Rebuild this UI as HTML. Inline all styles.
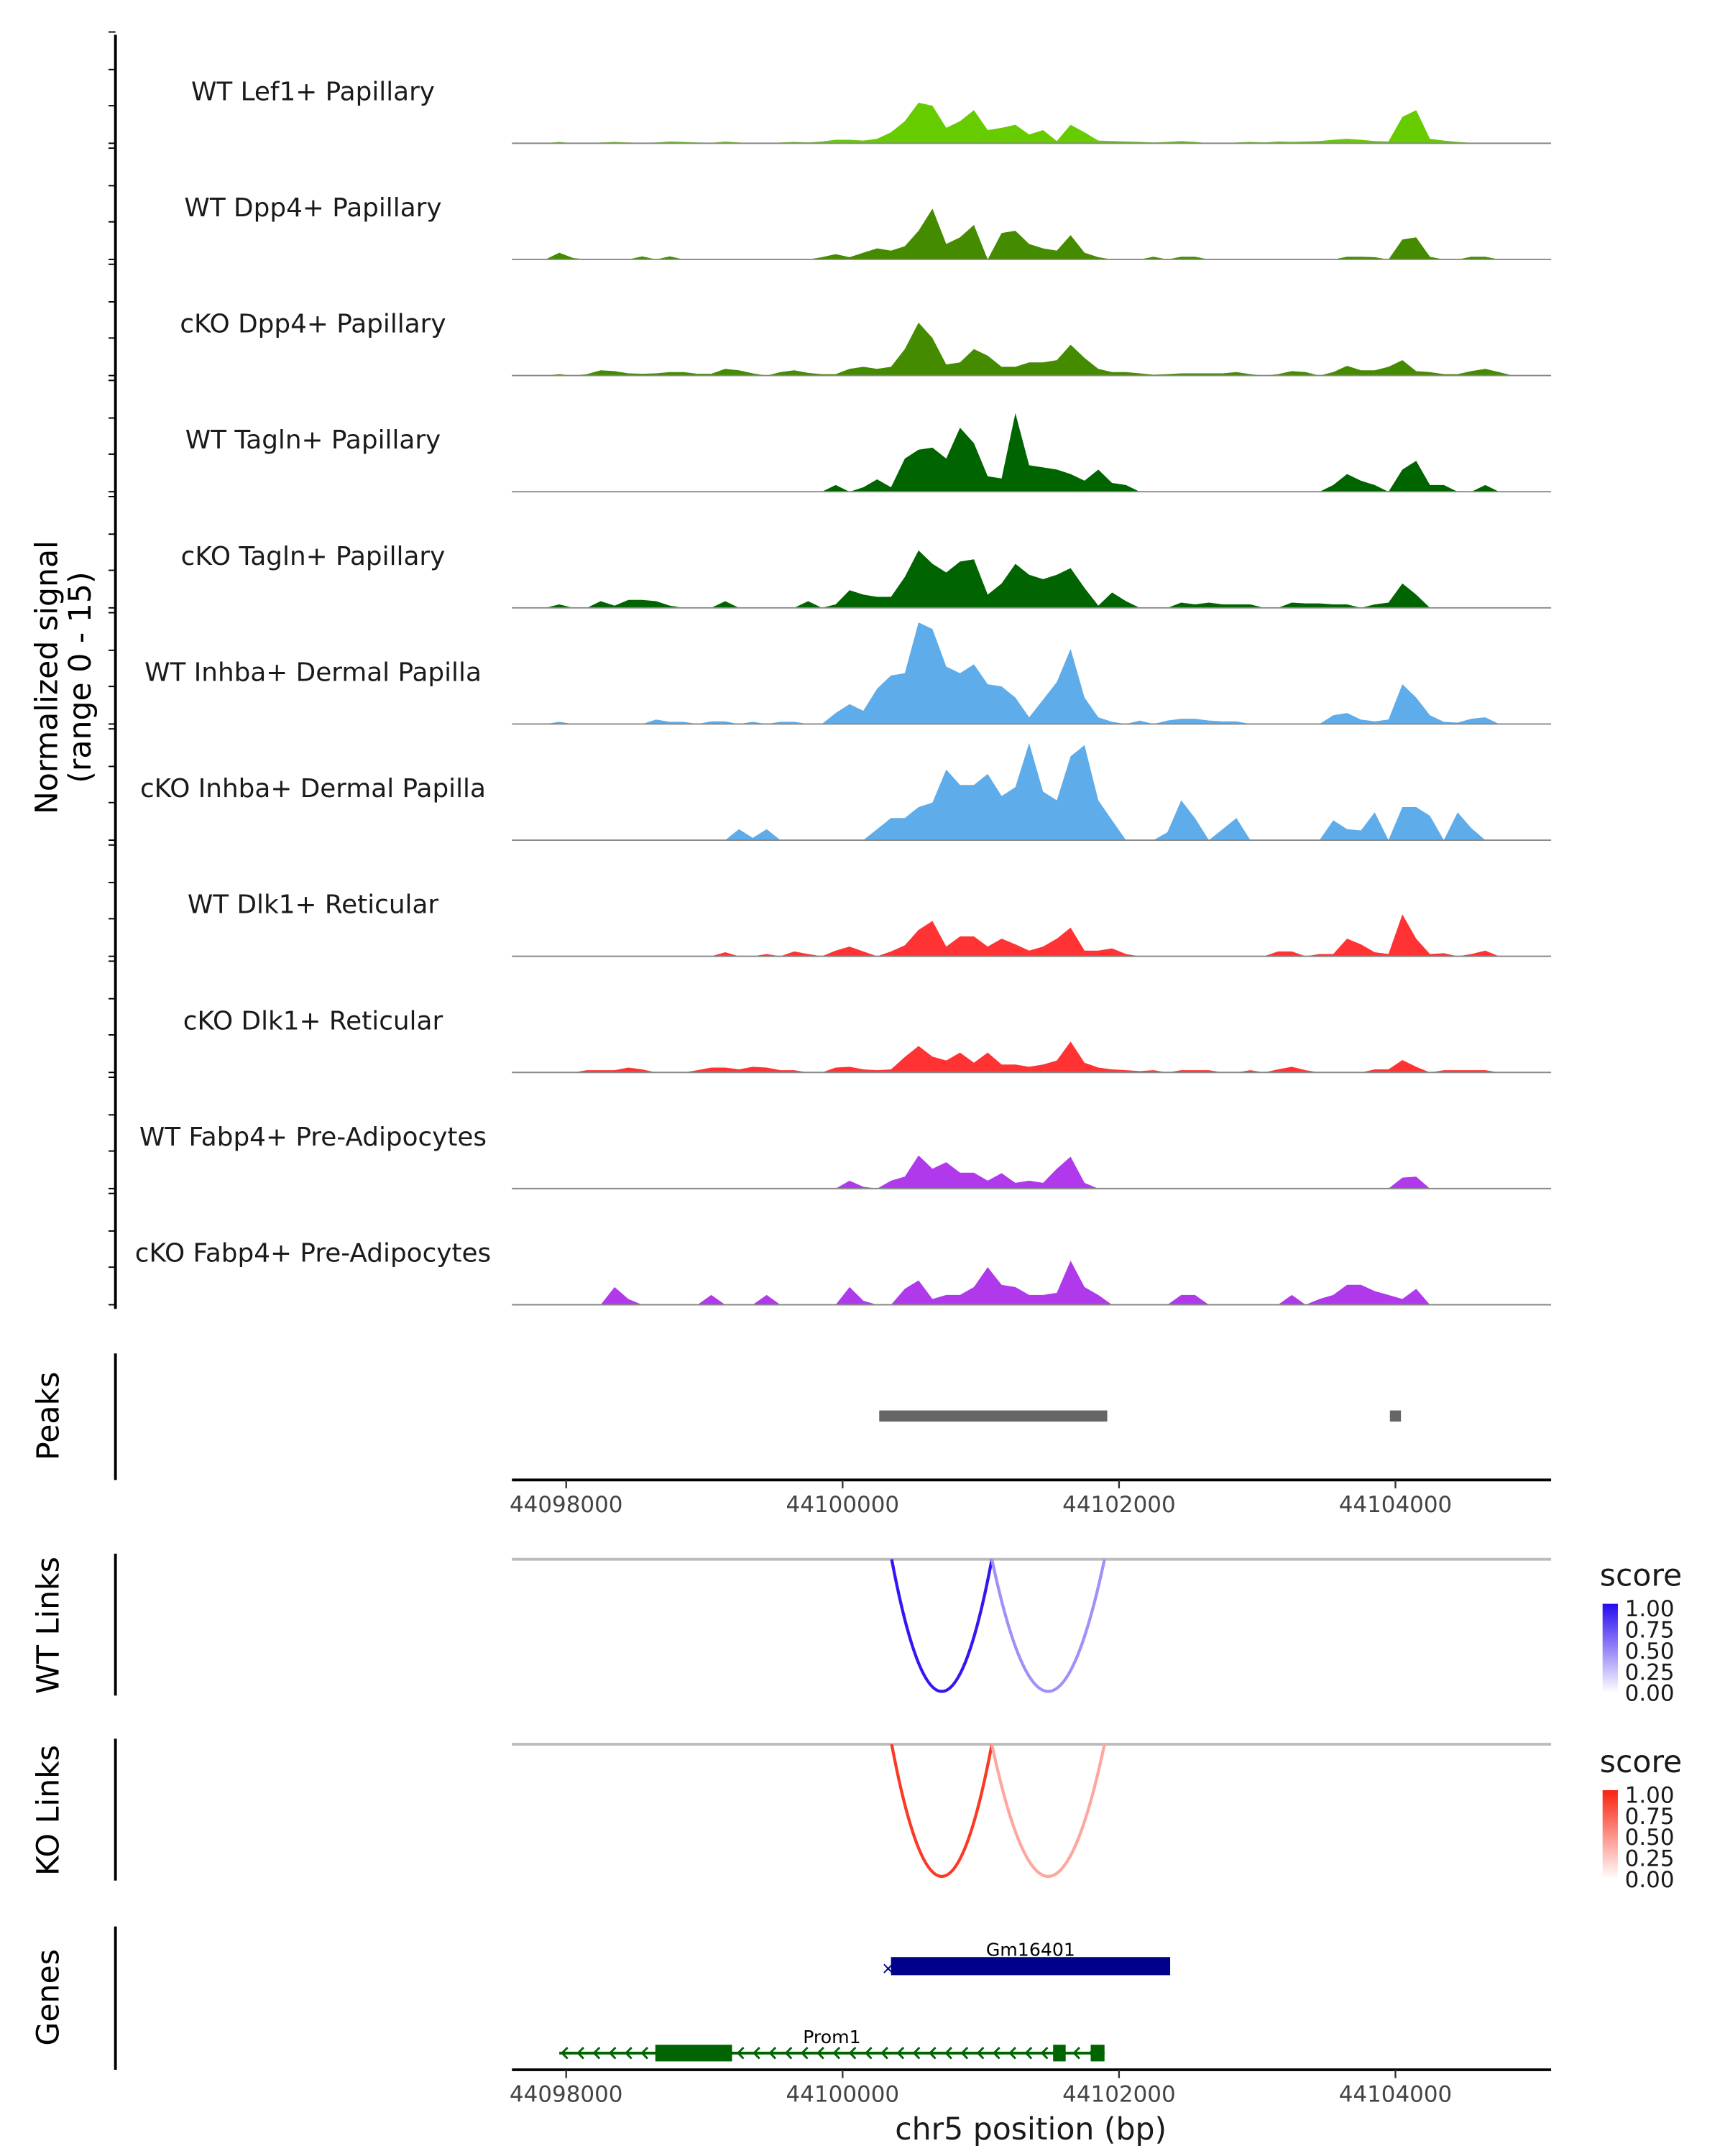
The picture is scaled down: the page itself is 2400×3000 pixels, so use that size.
<!DOCTYPE html>
<html><head><meta charset="utf-8"><style>
html,body{margin:0;padding:0;background:#fff}
svg{display:block;font-family:"DejaVu Sans","Liberation Sans",sans-serif}
</style></head><body>
<svg id="chart" xmlns="http://www.w3.org/2000/svg" width="2400" height="3000" viewBox="0 0 1240 1550">
<rect width="1240" height="1550" fill="#fff"/>
</svg>
<script>
const trackNames=["WT Lef1+ Papillary","WT Dpp4+ Papillary","cKO Dpp4+ Papillary","WT Tagln+ Papillary","cKO Tagln+ Papillary","WT Inhba+ Dermal Papilla","cKO Inhba+ Dermal Papilla","WT Dlk1+ Reticular","cKO Dlk1+ Reticular","WT Fabp4+ Pre-Adipocytes","cKO Fabp4+ Pre-Adipocytes"];
const trackColors=["#66cc00","#458b00","#458b00","#006400","#006400","#5eacea","#5eacea","#ff3333","#ff3333","#b03aeb","#b03aeb"];
const binStart=44097600;
const binSize=100;
const sLef1=[0,0,0,3,0,0,2,3,2,1,2,4,3,2,1,4,2,0,0,2,3,2,4,8,8,6,10,25,50,92,85,35,50,75,30,35,42,20,30,5,42,25,6,5,4,3,2,3,5,3,0,0,2,3,2,4,3,4,5,8,10,8,5,4,60,75,10,6,3,1,0,0,0,0,0,0];
const sDpp4WT=[0,0,0,15,3,0,0,0,0,7,0,7,0,0,0,0,0,0,0,0,0,0,5,12,5,15,25,20,30,65,115,35,50,78,0,60,65,35,25,20,55,15,5,0,0,0,6,0,6,6,0,0,0,0,0,0,0,0,0,0,6,6,5,0,45,50,6,0,0,6,6,0,0,0,0,0];
const sDpp4KO=[0,0,0,3,0,3,12,10,5,4,5,8,8,4,4,15,12,5,0,8,12,6,3,3,15,20,15,20,60,120,85,25,30,60,45,20,20,30,30,35,70,40,15,8,8,5,2,3,5,5,5,5,8,3,0,3,10,8,0,8,22,12,12,20,35,10,8,3,3,10,15,8,0,0,0,0];
const sTaglnWT=[0,0,0,0,0,0,0,0,0,0,0,0,0,0,0,0,0,0,0,0,0,0,0,15,0,10,28,10,75,95,100,75,145,110,35,30,178,60,55,50,40,25,50,20,15,0,0,0,0,0,0,0,0,0,0,0,0,0,0,15,40,25,15,0,50,70,15,15,0,0,15,0,0,0,0,0];
const sTaglnKO=[0,0,0,8,0,0,15,5,18,18,15,5,0,0,0,15,0,0,0,0,0,15,0,8,40,30,25,25,70,130,100,80,105,110,30,55,100,75,65,75,90,45,5,35,15,0,0,0,12,8,12,8,8,8,0,0,12,10,10,8,8,0,8,12,55,30,0,0,0,0,0,0,0,0,0,0];
const sInhbaWT=[0,0,0,5,0,0,0,0,0,0,10,5,5,0,6,6,0,5,0,5,5,0,0,25,45,30,80,110,115,230,215,130,115,135,90,85,60,15,55,95,170,60,15,5,0,8,0,8,12,12,8,6,6,0,0,0,0,0,0,20,25,10,6,10,90,60,20,5,3,12,15,0,0,0,0,0];
const sInhbaKO=[0,0,0,0,0,0,0,0,0,0,0,0,0,0,0,0,25,5,25,0,0,0,0,0,0,0,25,50,50,75,85,160,125,125,150,100,120,220,110,90,190,215,90,45,0,0,0,18,90,50,0,25,50,0,0,0,0,0,0,45,25,22,63,0,75,75,55,0,63,27,0,0,0,0,0,0];
const sDlk1WT=[0,0,0,0,0,0,0,0,0,0,0,0,0,0,0,9,0,0,5,0,11,5,0,13,22,11,0,11,25,60,80,22,45,45,22,40,27,13,22,40,65,13,13,18,5,0,0,0,0,0,0,0,0,0,0,11,11,0,5,5,40,27,9,5,95,40,5,7,0,5,13,0,0,0,0,0];
const sDlk1KO=[0,0,0,0,0,5,5,5,11,7,0,0,0,5,11,11,7,13,11,5,5,0,0,11,13,7,5,7,35,60,36,27,45,22,45,18,18,13,18,27,70,22,11,7,5,3,5,0,5,5,5,0,0,5,0,7,13,5,0,0,0,0,7,7,28,13,0,5,5,5,5,0,0,0,0,0];
const sFabp4WT=[0,0,0,0,0,0,0,0,0,0,0,0,0,0,0,0,0,0,0,0,0,0,0,0,18,4,0,18,27,75,45,60,36,36,18,35,13,18,13,45,72,13,0,0,0,0,0,0,0,0,0,0,0,0,0,0,0,0,0,0,0,0,0,0,25,27,0,0,0,0,0,0,0,0,0,0];
const sFabp4KO=[0,0,0,0,0,0,0,40,13,0,0,0,0,0,22,0,0,0,22,0,0,0,0,0,40,9,0,0,36,55,13,22,22,40,85,45,40,22,22,27,100,40,22,0,0,0,0,0,22,22,0,0,0,0,0,0,22,0,13,22,45,45,31,22,13,36,0,0,0,0,0,0,0,0,0,0];
const trackSignals=[sLef1,sDpp4WT,sDpp4KO,sTaglnWT,sTaglnKO,sInhbaWT,sInhbaKO,sDlk1WT,sDlk1KO,sFabp4WT,sFabp4KO];
const yMax=252;
const xTicks=[44098000,44100000,44102000,44104000];
const peakStarts=[44100265,44103960];
const peakEnds=[44101915,44104040];
const wtLinkStart=[44100355,44101080];
const wtLinkEnd=[44101080,44101895];
const wtLinkScore=[0.95,0.45];
const koLinkStart=[44100355,44101080];
const koLinkEnd=[44101080,44101895];
const koLinkScore=[0.9,0.4];
const legendTicks=["1.00","0.75","0.50","0.25","0.00"];
const geneNames=["Gm16401","Prom1"];
const geneStart=[44100350,44097950];
const geneEnd=[44102370,44101895];
const prom1ExonStart=[44098645,44101523,44101795];
const prom1ExonEnd=[44099200,44101614,44101895];

const svg=document.getElementById('chart');
const NS='http://www.w3.org/2000/svg';
function el(tag,attrs,parent){const e=document.createElementNS(NS,tag);for(const k in attrs)e.setAttribute(k,attrs[k]);(parent||svg).appendChild(e);return e;}
function txt(s,attrs,parent){const e=el('text',attrs,parent);e.textContent=s;return e;}
const X0=368,X1=1115;
function xs(p){return 407+(p-44098000)*0.099350;}
const base0=103,step=83.5,hPx=80;
function ys(v,b){return b-v/yMax*hPx;}

let a=el('line',{x1:83,y1:25,x2:83,y2:941,stroke:'#000','stroke-width':2});

for(let t=0;t<trackNames.length;t++){
  const b=base0+t*step;
  [0,27,53,80].forEach(o=>{el('line',{x1:78,y1:b-o,x2:83,y2:b-o,stroke:'#000','stroke-width':1});});
}
let yl=txt('',{x:0,y:0,'font-size':22,'text-anchor':'middle',transform:'translate(45,487) rotate(-90)'});

const t1=document.createElementNS(NS,'tspan');t1.setAttribute('x',0);t1.setAttribute('dy',-4);t1.textContent='Normalized signal';yl.appendChild(t1);
const t2=document.createElementNS(NS,'tspan');t2.setAttribute('x',0);t2.setAttribute('dy',24);t2.textContent='(range 0 - 15)';yl.appendChild(t2);

for(let t=0;t<trackNames.length;t++){
  const b=base0+t*step;
  const g=el('g',{});
  
  
  const vals=trackSignals[t];
  let d='M'+X0+','+b;
  for(let i=0;i<vals.length;i++){
    const xc=xs(binStart+i*binSize+binSize/2);
    d+=' L'+xc.toFixed(1)+','+ys(vals[i],b).toFixed(1);
  }
  d+=' L'+X1+','+b+' Z';
  const p=el('path',{d:d,fill:trackColors[t],stroke:'none'},g);
  
  
  el('line',{x1:X0,y1:b,x2:X1,y2:b,stroke:'#888','stroke-width':1},g);
  const lb=txt(trackNames[t],{x:225,y:b-31,'font-size':18.5,'text-anchor':'middle',fill:'#1a1a1a'},g);
  
  
}

el('line',{x1:83,y1:973,x2:83,y2:1064,stroke:'#000','stroke-width':2});
let pl=txt('Peaks',{x:0,y:0,'font-size':22,'text-anchor':'middle',transform:'translate(42,1018) rotate(-90)'});

for(let i=0;i<peakStarts.length;i++){
  const r=el('rect',{x:xs(peakStarts[i]),y:1014,width:xs(peakEnds[i])-xs(peakStarts[i]),height:8,fill:'#666'});
  
  
}
function xAxis(y,name){
  const g=el('g',{});
  
  
  el('line',{x1:X0,y1:y,x2:X1,y2:y,stroke:'#000','stroke-width':2},g);
  xTicks.forEach(v=>{
    el('line',{x1:xs(v),y1:y,x2:xs(v),y2:y+6,stroke:'#333','stroke-width':1.2},g);
    txt(String(v),{x:xs(v),y:y+23,'font-size':16,'text-anchor':'middle',fill:'#444'},g);
  });
}
xAxis(1064,'peaks-x-axis');

function linksPanel(top,bottom,label,starts,ends,scores,rgb,legendTop,name){
  el('line',{x1:83,y1:top-4,x2:83,y2:bottom+3,stroke:'#000','stroke-width':2});
  const lab=txt(label,{x:0,y:0,'font-size':22,'text-anchor':'middle',transform:'translate(42,'+((top+bottom)/2)+') rotate(-90)'});
  
  el('line',{x1:X0,y1:top,x2:X1,y2:top,stroke:'#bbb','stroke-width':2});
  for(let i=0;i<starts.length;i++){
    const xa=xs(starts[i]),xb=xs(ends[i]);
    const s=scores[i];
    const c='rgb('+rgb.map(v=>Math.round(255-(255-v)*s)).join(',')+')';
    const cy=2*bottom-top;
    const pth=el('path',{d:'M'+xa+','+top+' Q'+((xa+xb)/2)+','+cy+' '+xb+','+top,fill:'none',stroke:c,'stroke-width':2.2});
    
    
  }
  const lg=el('g',{});
  
  
  txt('score',{x:1150,y:legendTop,'font-size':22,fill:'#1a1a1a'},lg);
  const gid='grad'+name;
  const defs=el('defs',{},lg);
  const gr=el('linearGradient',{id:gid,x1:0,y1:0,x2:0,y2:1},defs);
  el('stop',{offset:0,'stop-color':'rgb('+rgb.join(',')+')'},gr);
  el('stop',{offset:1,'stop-color':'#ffffff'},gr);
  const by=legendTop+13;
  el('rect',{x:1152,y:by,width:11,height:64,fill:'url(#'+gid+')'},lg);
  legendTicks.forEach((s,i)=>{
    const ty=by+3+i*15.2;
    txt(s,{x:1168,y:ty+6,'font-size':16,fill:'#1a1a1a'},lg);
  });
}
linksPanel(1121,1216,'WT Links',wtLinkStart,wtLinkEnd,wtLinkScore,[40,10,240],1140,'wt-links');
linksPanel(1254,1349,'KO Links',koLinkStart,koLinkEnd,koLinkScore,[250,35,15],1274,'ko-links');

el('line',{x1:83,y1:1385,x2:83,y2:1488,stroke:'#000','stroke-width':2});
let gl=txt('Genes',{x:0,y:0,'font-size':22,'text-anchor':'middle',transform:'translate(42,1436) rotate(-90)'});

let gm=el('g',{});

el('rect',{x:xs(geneStart[0]),y:1407,width:xs(geneEnd[0])-xs(geneStart[0]),height:13,fill:'#00008b'},gm);
txt('×',{x:xs(geneStart[0])-2,y:1419,'font-size':12,'text-anchor':'middle',fill:'#00008b'},gm);
txt(geneNames[0],{x:(xs(geneStart[0])+xs(geneEnd[0]))/2,y:1406,'font-size':13,'text-anchor':'middle',fill:'#000'},gm);
let pr=el('g',{});

el('line',{x1:xs(geneStart[1]),y1:1476,x2:xs(geneEnd[1]),y2:1476,stroke:'#006400','stroke-width':2},pr);
for(let x=xs(geneStart[1])+2;x<xs(geneEnd[1])-4;x+=11.5){
  el('path',{d:'M'+(x+4)+',1472 L'+x+',1476 L'+(x+4)+',1480',fill:'none',stroke:'#006400','stroke-width':1.5},pr);
}
for(let i=0;i<prom1ExonStart.length;i++){
  el('rect',{x:xs(prom1ExonStart[i]),y:1470,width:xs(prom1ExonEnd[i])-xs(prom1ExonStart[i]),height:12,fill:'#006400'},pr);
}
txt(geneNames[1],{x:598,y:1469,'font-size':13,'text-anchor':'middle',fill:'#000'},pr);
xAxis(1488,'genes-x-axis');
let xt=txt('chr5 position (bp)',{x:741,y:1538,'font-size':22,'text-anchor':'middle',fill:'#1a1a1a'});

</script>
</body></html>
